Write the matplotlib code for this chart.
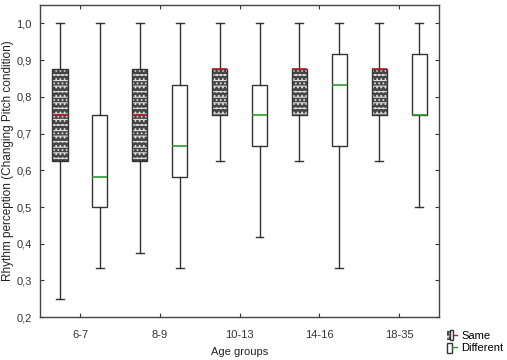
import matplotlib
matplotlib.use("Agg")
import matplotlib.pyplot as plt
from matplotlib.patches import Patch, PathPatch
from matplotlib.lines import Line2D
from matplotlib.legend_handler import HandlerTuple
from matplotlib.ticker import FuncFormatter

plt.rcParams["font.family"] = ["Liberation Sans", "DejaVu Sans"]
plt.rcParams["hatch.linewidth"] = 0.8

groups = ["6-7", "8-9", "10-13", "14-16", "18-35"]

# Same condition: whisker low, q1, median, q3, whisker high
same_lo = [0.25, 0.375, 0.625, 0.625, 0.625]
same_q1 = [0.625, 0.625, 0.75, 0.75, 0.75]
same_med = [0.75, 0.75, 0.875, 0.875, 0.875]
same_q3 = [0.875, 0.875, 0.875, 0.875, 0.875]
same_hi = [1.0, 1.0, 1.0, 1.0, 1.0]

# Different condition
diff_lo = [0.333, 0.333, 0.417, 0.333, 0.5]
diff_q1 = [0.5, 0.583, 0.667, 0.667, 0.75]
diff_med = [0.583, 0.667, 0.75, 0.833, 0.75]
diff_q3 = [0.75, 0.833, 0.833, 0.917, 0.917]
diff_hi = [1.0, 1.0, 1.0, 1.0, 1.0]

HATCH = "---...."
FILL = "#454545"


def make_stats(lo, q1, med, q3, hi):
    return [dict(whislo=a, q1=b, med=c, q3=d, whishi=e, fliers=[])
            for a, b, c, d, e in zip(lo, q1, med, q3, hi)]


fig = plt.figure(figsize=(5.07, 3.6), dpi=100)
ax = fig.add_axes([0.079, 0.119, 0.787, 0.867])

pos = list(range(1, len(groups) + 1))
common = dict(widths=0.19, patch_artist=True, showfliers=False,
              whiskerprops=dict(color="#333333", lw=1.0),
              capprops=dict(color="#333333", lw=1.0),
              capwidths=0.1)

b1 = ax.bxp(make_stats(same_lo, same_q1, same_med, same_q3, same_hi),
            positions=[p - 0.25 for p in pos],
            boxprops=dict(facecolor=FILL, edgecolor="#dddddd", lw=0.0, hatch=HATCH),
            medianprops=dict(color="#b01c2a", lw=1.2), **common)
b2 = ax.bxp(make_stats(diff_lo, diff_q1, diff_med, diff_q3, diff_hi),
            positions=[p + 0.25 for p in pos],
            boxprops=dict(facecolor="white", edgecolor="#333333", lw=1.0),
            medianprops=dict(color="#2a9d2a", lw=1.2), **common)

# dark outline on top of the hatched boxes
for box in b1["boxes"]:
    ax.add_patch(PathPatch(box.get_path(), fill=False, edgecolor="#333333",
                           lw=1.0, zorder=box.get_zorder() + 0.1))
for med in b1["medians"]:
    med.set_zorder(5)

ax.set_xlim(0.5, 5.5)
ax.set_ylim(0.2, 1.05)
ax.set_xticks(pos)
ax.set_xticklabels(groups)
ax.set_yticks([0.2, 0.3, 0.4, 0.5, 0.6, 0.7, 0.8, 0.9, 1.0])
ax.yaxis.set_major_formatter(FuncFormatter(lambda v, _: f"{v:.1f}".replace(".", ",")))
ax.tick_params(direction="in", length=3, width=0.8, labelsize=8, colors="#333333",
               top=True, right=True, pad=6)
ax.tick_params(axis="x", pad=9)
for s in ax.spines.values():
    s.set_color("#444444")
    s.set_linewidth(1.0)

ax.set_xlabel("Age groups", fontsize=8, color="#222222")
ax.xaxis.set_label_coords(0.5, -0.095)
ax.set_ylabel("Rhythm perception (Changing Pitch condition)", fontsize=8.5,
              color="#222222")
ax.yaxis.set_label_coords(-0.065, 0.5)

h_same = (Patch(facecolor=FILL, edgecolor="#dddddd", hatch=HATCH, lw=0),
          Patch(fill=False, edgecolor="#333333", lw=1.0),
          Line2D([], [], color="#b01c2a", lw=1.0))
h_diff = (Patch(facecolor="white", edgecolor="#333333", lw=1.0),
          Line2D([], [], color="#2a9d2a", lw=1.0))
fig.legend([h_same, h_diff], ["Same", "Different"],
           handler_map={tuple: HandlerTuple(ndivide=None, pad=0)},
           loc="lower left", bbox_to_anchor=(0.868, 0.0), frameon=False,
           fontsize=8, handlelength=0.9, handleheight=1.0, handletextpad=0.4,
           labelspacing=0.15, borderaxespad=0.2)

fig.savefig("out.png", dpi=100)
